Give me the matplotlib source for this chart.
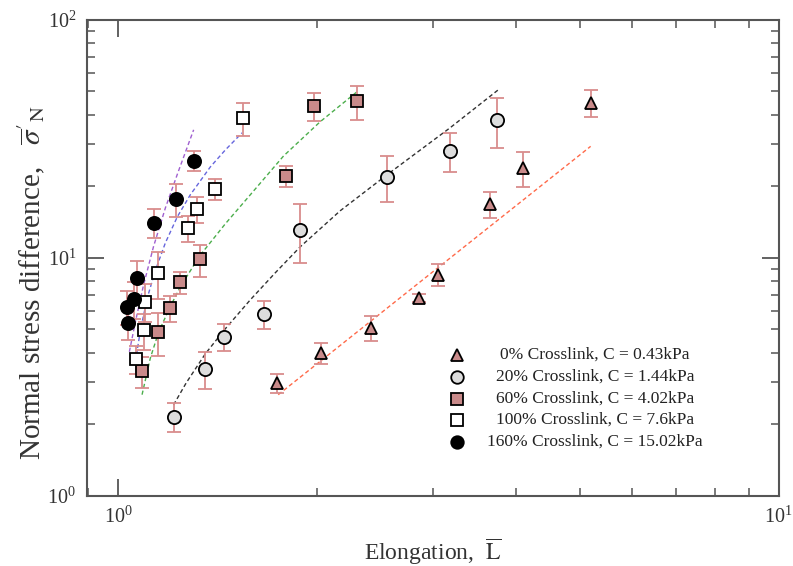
import matplotlib
matplotlib.use("Agg")
import matplotlib.pyplot as plt
import numpy as np

plt.rcParams['font.family'] = 'Liberation Serif'
plt.rcParams['mathtext.fontset'] = 'stix'

# measured data: elongation, normal stress difference, error
L_0 = [1.74, 2.03, 2.41, 2.85, 3.05, 3.66, 4.10, 5.19]
S_0 = [2.98, 3.98, 5.07, 6.77, 8.48, 16.8, 23.8, 44.9]
E_0 = [0.28, 0.40, 0.60, 0.25, 0.90, 2.1, 4.0, 5.8]

L_20 = [1.212, 1.354, 1.447, 1.663, 1.885, 2.55, 3.18, 3.75]
S_20 = [2.15, 3.41, 4.65, 5.80, 13.15, 21.9, 28.2, 37.8]
E_20 = [0.30, 0.60, 0.60, 0.80, 3.6, 4.8, 5.2, 9.0]

L_60 = [1.086, 1.148, 1.198, 1.238, 1.328, 1.792, 1.975, 2.297]
S_60 = [3.33, 4.86, 6.15, 7.88, 9.84, 22.0, 43.4, 45.4]
E_60 = [0.5, 1.0, 0.75, 0.8, 1.5, 2.2, 6.0, 7.4]

L_100 = [1.064, 1.095, 1.099, 1.148, 1.273, 1.315, 1.402, 1.544]
S_100 = [3.75, 4.95, 6.55, 8.63, 13.3, 16.0, 19.5, 38.6]
E_100 = [0.5, 0.85, 1.2, 1.9, 1.7, 2.0, 2.0, 6.0]

L_160 = [1.035, 1.032, 1.057, 1.067, 1.131, 1.224, 1.303]
S_160 = [5.33, 6.23, 6.73, 8.24, 14.07, 17.7, 25.6]
E_160 = [0.8, 1.0, 1.2, 1.5, 2.0, 2.8, 2.5]

# model curves
fit_L_0 = [1.746, 5.19]
fit_S_0 = [2.66, 29.4]
fit_L_20 = [1.212, 1.267, 1.354, 1.447, 1.584, 1.728, 1.885, 2.167, 2.55,
            3.18, 3.761]
fit_S_20 = [2.41, 2.985, 3.95, 4.98, 6.66, 8.65, 11.12, 15.76, 22.3,
            35.2, 50.8]
fit_L_60 = [1.086, 1.118, 1.151, 1.198, 1.241, 1.328, 1.452, 1.584, 1.779,
            2.021, 2.297]
fit_S_60 = [2.66, 3.80, 4.89, 6.23, 7.55, 10.2, 13.9, 18.4, 26.8, 37.3, 49.8]
fit_L_100 = [1.061, 1.080, 1.106, 1.137, 1.178, 1.228, 1.285, 1.378, 1.452,
             1.539]
fit_S_100 = [3.66, 4.98, 6.79, 8.82, 11.56, 14.87, 18.4, 24.1, 28.4, 33.5]
fit_L_160 = [1.039, 1.061, 1.091, 1.130, 1.178, 1.232, 1.300]
fit_S_160 = [4.03, 5.38, 7.63, 11.12, 16.2, 23.0, 34.5]

labels = ['0% Crosslink, C = 0.43kPa',
          '20% Crosslink, C = 1.44kPa',
          '60% Crosslink, C = 4.02kPa',
          '100% Crosslink, C = 7.6kPa',
          '160% Crosslink, C = 15.02kPa']

pink = '#c98a8a'
errc = '#d98c8c'
markers = ['^', 'o', 's', 's', 'o']
faces = [pink, '#dddddd', pink, 'white', 'black']
sizes = [9, 9.5, 8.5, 8.5, 9.5]
line_colors = ['#ff6a4a', '#333333', '#4cae4c', '#6666dd', '#a060d0']

fig = plt.figure(figsize=(7.93, 5.66), dpi=100)
ax = fig.add_axes([0.110, 0.124, 0.872, 0.841])
ax.set_xscale('log')
ax.set_yscale('log')

data = [(L_0, S_0, E_0), (L_20, S_20, E_20), (L_60, S_60, E_60),
        (L_100, S_100, E_100), (L_160, S_160, E_160)]
fits = [(fit_L_0, fit_S_0), (fit_L_20, fit_S_20), (fit_L_60, fit_S_60),
        (fit_L_100, fit_S_100), (fit_L_160, fit_S_160)]

for (fx, fy), c in zip(fits, line_colors):
    ax.plot(fx, fy, ls=(0, (3, 2)), lw=1.0, color=c, zorder=2)

for (x, y, e), m, f, s in zip(data, markers, faces, sizes):
    ax.errorbar(x, y, yerr=e, fmt='none', ecolor=errc, elinewidth=1.3,
                capsize=5, capthick=1.3, zorder=3)
    ax.plot(x, y, ls='none', marker=m, ms=s, mfc=f, mec='black', mew=1.3,
            zorder=4)

# legend drawn as a small table of marker + centred text
rows = [0.296, 0.250, 0.204, 0.160, 0.113]
for lab, m, f, s, yy in zip(labels, markers, faces, sizes, rows):
    ax.plot([0.535], [yy], transform=ax.transAxes, ls='none', marker=m,
            ms=s * 0.95, mfc=f, mec='black', mew=1.3, clip_on=False)
    ax.text(0.734, yy, lab, transform=ax.transAxes, ha='center',
            va='center', fontsize=12.5, color='#222222')

ax.set_xlim(0.897, 10)
ax.set_ylim(1, 100)

for sp in ax.spines.values():
    sp.set_color('#555555')
    sp.set_linewidth(1.5)
ax.tick_params(which='both', direction='in', top=True, right=True,
               color='#555555', labelsize=14.5, labelcolor='#333333')
ax.tick_params(which='major', length=12, width=1.3, pad=8)
ax.tick_params(which='minor', length=6, width=1.1)
ax.tick_params(axis='y', which='minor', labelleft=False)
ax.tick_params(axis='x', which='minor', labelbottom=False)

ax.set_xlabel(r'Elongation,  $\overline{\mathrm{L}}$', fontsize=17,
              color='#333333', labelpad=6)
ax.set_ylabel(r"Normal stress difference,   ${\overline{\sigma}}'_{\mathrm{N}}$",
              fontsize=21, color='#333333')
ax.yaxis.set_label_coords(-0.058, 0.447)

fig.savefig('out.png', dpi=100)
